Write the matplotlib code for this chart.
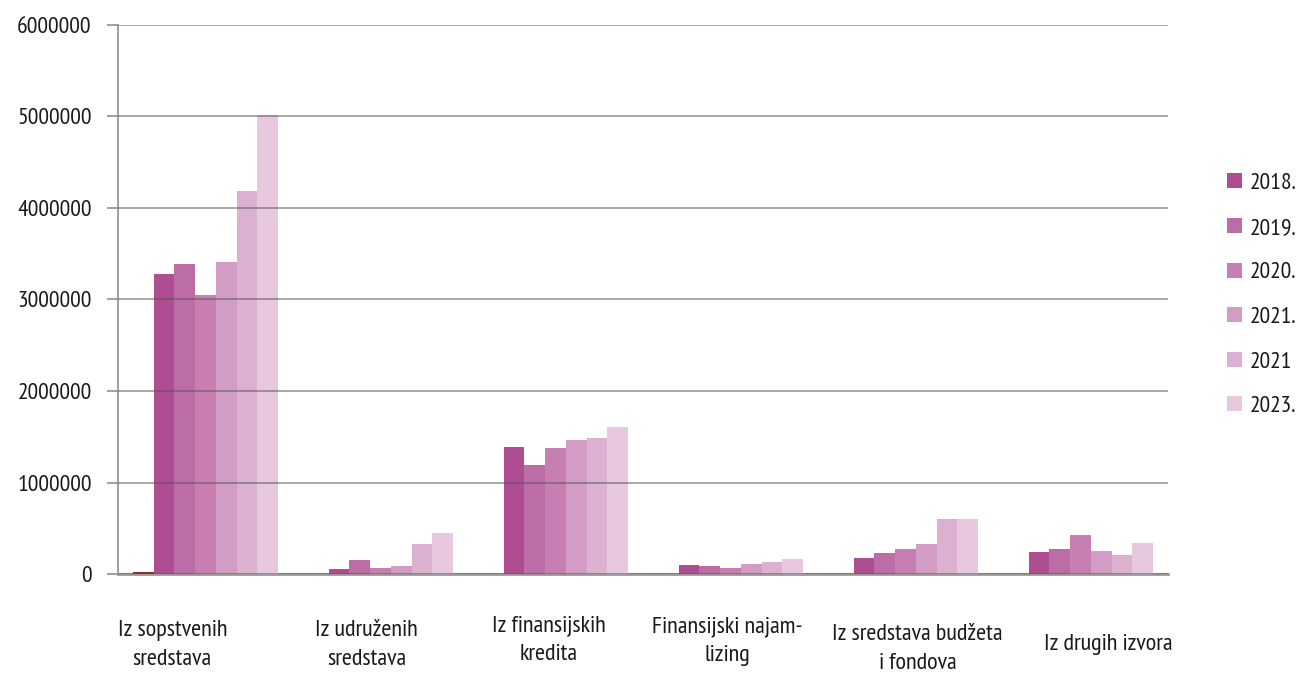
import matplotlib.pyplot as plt
import numpy as np

plt.rcParams['font.family'] = ['PT Sans Narrow', 'Roboto Condensed', 'DejaVu Sans']

categories = ["Iz sopstvenih\nsredstava", "Iz udruženih\nsredstava", "Iz finansijskih\nkredita",
              "Finansijski najam-\nlizing", "Iz sredstava budžeta\ni fondova", "Iz drugih izvora"]
years = ["2018.", "2019.", "2020.", "2021.", "2021", "2023."]

# unnamed series (tiny dark red bar in the first group, no legend entry)
extra = [25000, 0, 0, 0, 0, 0]
v2018 = [3275000, 55000, 1384000, 102000, 175000, 245000]
v2019 = [3388000, 153000, 1195000, 91000, 234000, 270000]
v2020 = [3049000, 66000, 1373000, 66000, 270000, 425000]
v2021 = [3406000, 91000, 1468000, 109000, 325000, 255000]
v2021b = [4190000, 328000, 1490000, 127000, 600000, 208000]
v2023 = [5020000, 448000, 1610000, 166000, 597000, 335000]

series = [extra, v2018, v2019, v2020, v2021, v2021b, v2023]
labels = ["_extra"] + years
colors = ["#8c2a2e", "#ae4d91", "#bc6da5", "#c77fb2", "#d39cc4", "#dcb0cf", "#e8c8de"]

# where the category labels sit (they do not line up with the groups exactly)
label_x = [-0.19, 0.92, 1.96, 2.98, 4.07, 5.16]
label_y = [-0.129, -0.129, -0.120, -0.122, -0.137, -0.129]

fig = plt.figure(figsize=(13.04, 6.75), dpi=100)
ax = fig.add_axes([0.0905, 0.1496, 0.8052, 0.8134])

x = np.arange(len(categories))
w = 0.1186
for k, (vals, lab, c) in enumerate(zip(series, labels, colors)):
    ax.bar(x + (k - 3) * w, vals, w, color=c, label=lab, zorder=2, linewidth=0)

ax.set_xlim(-0.5, len(categories) - 0.5)
ax.set_ylim(0, 6000000)
ax.set_yticks(np.arange(0, 6000001, 1000000))
ax.set_yticklabels([str(v) for v in range(0, 6000001, 1000000)], fontsize=17, color="#1a1a1a")
ax.set_xticks([])
ax.yaxis.grid(True, color="#555555", alpha=0.55, linewidth=1.3, zorder=3)
ax.set_axisbelow(False)

for s in ["top", "right"]:
    ax.spines[s].set_visible(False)
ax.spines["left"].set_color("#999999")
ax.spines["bottom"].set_color("#999999")
ax.spines["left"].set_linewidth(1.3)
ax.spines["bottom"].set_linewidth(2)
ax.spines["bottom"].set_zorder(1)
ax.tick_params(axis="y", length=8, color="#999999", width=1.3, pad=11)

for lx, ly, cat in zip(label_x, label_y, categories):
    ax.text(lx, ly, cat, transform=ax.get_xaxis_transform(), ha="center", va="center",
            fontsize=17.5, color="#1a1a1a", linespacing=1.5)

handles, labs = ax.get_legend_handles_labels()
fig.legend(handles, labs, loc="upper left", bbox_to_anchor=(0.925, 0.775), frameon=False,
           fontsize=17, handlelength=0.6, handleheight=0.6, handletextpad=0.35,
           labelspacing=1.0, labelcolor="#1a1a1a")

fig.savefig("out.png", dpi=100)
